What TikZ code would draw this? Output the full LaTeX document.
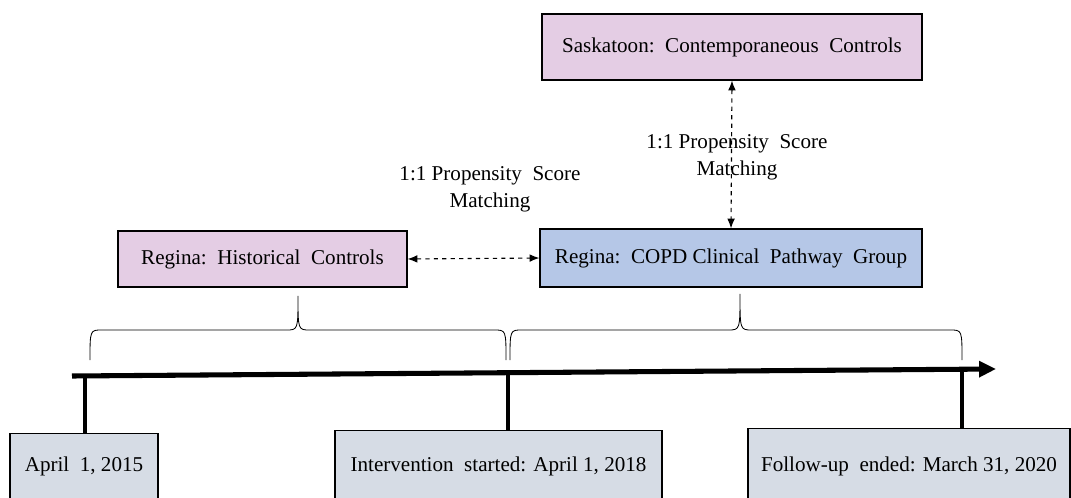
\documentclass[tikz,border=0pt]{standalone}
\usepackage{fontspec}
\setmainfont{Liberation Serif}
\usetikzlibrary{arrows.meta}
\definecolor{pinkfill}{RGB}{228,205,228}
\definecolor{bluefill}{RGB}{181,199,231}
\definecolor{grayfill}{RGB}{214,220,229}
\tikzset{
    box/.style={draw, line width=0.8pt, inner sep=0pt, font=\fontsize{15}{17}\selectfont},
    datebox/.style={box, anchor=north, fill=grayfill, inner ysep=0pt, text depth=1cm},
    matchlabel/.style={align=center, font=\fontsize{15}{19}\selectfont},
    matcharrow/.style={dashed, line width=0.8pt, {Latex[length=7pt, width=5.5pt]}-{Latex[length=7pt, width=5.5pt]}},
    tick/.style={line width=2.6pt}
}
\begin{document}
\begin{tikzpicture}[x=0.025cm, y=-0.025cm]
    \useasboundingbox (0, 0) rectangle (1071, 498);
    \clip (0, 0) rectangle (1071, 498);
    % study groups
    \node (sask) at (732, 47) [box, fill=pinkfill, minimum width=9.5cm, minimum height=1.65cm] {Saskatoon:\ \ Contemporaneous\ \ Controls};
    \node (hist) at (262.5, 259) [box, fill=pinkfill, minimum width=7.225cm, minimum height=1.4cm] {Regina:\ \ Historical\ \ Controls};
    \node (copd) at (731, 258) [box, fill=bluefill, minimum width=9.55cm, minimum height=1.45cm] {Regina:\ \ COPD Clinical\ \ Pathway\ \ Group};
    % matching
    \node (m1) at (490, 189) [matchlabel] {1:1 Propensity\ \ Score\\Matching};
    \node (m2) at (737, 157) [matchlabel] {1:1 Propensity\ \ Score\\Matching};
    \draw[matcharrow] (hist.east) -- (copd.west);
    \draw[matcharrow] (sask.south) -- (copd.north);
    % braces
    \draw[line width=0.6pt] (90, 360) .. controls (90, 330) .. (102, 330) -- (286, 330) .. controls (298, 330) .. (298, 296)
        .. controls (298, 330) .. (310, 330) -- (494, 330) .. controls (506, 330) .. (506, 360);
    \draw[line width=0.6pt] (510, 360) .. controls (510, 330) .. (522, 330) -- (728, 330) .. controls (740, 330) .. (740, 294)
        .. controls (740, 330) .. (752, 330) -- (950, 330) .. controls (962, 330) .. (962, 360);
    % timeline
    \coordinate (start) at (72, 376);
    \coordinate (stop) at (996, 369);
    \draw[line width=3.6pt, -{Triangle[length=12pt, width=11pt]}] (start) -- (stop);
    \coordinate (t1) at (85, 375);
    \coordinate (t2) at (508, 372);
    \coordinate (t3) at (962, 369);
    % dates
    \node (d1) at (84, 433) [datebox, minimum width=3.7cm, text height=0.95cm] {April\ \ 1, 2015};
    \node (d2) at (498.5, 430) [datebox, minimum width=8.175cm, text height=1.025cm] {Intervention\ \ started: April\ 1, 2018};
    \node (d3) at (909, 428) [datebox, minimum width=8.05cm, text height=1.075cm] {Follow-up\ \ ended: March 31, 2020};
    \draw[tick] (t1) -- (t1 |- d1.north);
    \draw[tick] (t2) -- (t2 |- d2.north);
    \draw[tick] (t3) -- (t3 |- d3.north);
\end{tikzpicture}
\end{document}
